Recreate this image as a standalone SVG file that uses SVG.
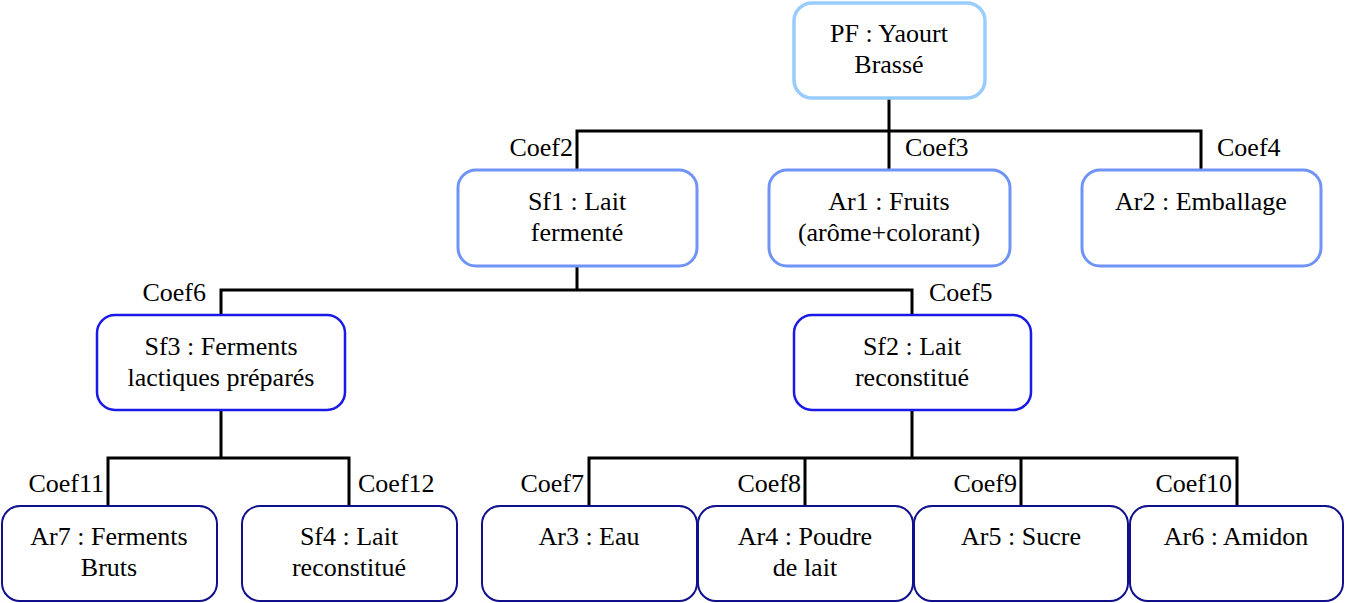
<svg xmlns="http://www.w3.org/2000/svg" width="1345" height="603" viewBox="0 0 1345 603">
  <style>
    text { font-family: 'Times New Roman', 'Liberation Serif', 'DejaVu Serif', serif; font-size: 26px; fill: #000; }
    .c { text-anchor: middle; }
    .r { text-anchor: end; }
    .box { fill: #fff; }
    .l1 { stroke: #99CCFF; stroke-width: 3.5; }
    .l2 { stroke: #7094F5; stroke-width: 3; }
    .l3 { stroke: #1A1AE6; stroke-width: 2.5; }
    .l4 { stroke: #10108C; stroke-width: 2; }
    #connectors path { fill: none; stroke: #000; stroke-width: 3; }
  </style>

  <!-- tree connectors -->
  <g id="connectors">
    <path d="M889 98 V131 M577 170 V131 H1201 V170 M889 131 V170"/>
    <path d="M577 266 V290 M221 315 V290 H912 V315"/>
    <path d="M221 410 V458 M108 506 V458 H349 V506"/>
    <path d="M912 410 V458 M589 506 V458 H1237 V506 M805 458 V506 M1021 458 V506"/>
  </g>

  <!-- coefficient labels -->
  <g id="labels">
    <text class="r" x="573" y="156">Coef2</text>
    <text x="905" y="156">Coef3</text>
    <text x="1217" y="156">Coef4</text>
    <text class="r" x="206" y="301">Coef6</text>
    <text x="929" y="301">Coef5</text>
    <text class="r" x="104" y="492">Coef11</text>
    <text x="358" y="492">Coef12</text>
    <text class="r" x="584" y="492">Coef7</text>
    <text class="r" x="801" y="492">Coef8</text>
    <text class="r" x="1017" y="492">Coef9</text>
    <text class="r" x="1232" y="492">Coef10</text>
  </g>

  <g id="pf">
    <rect class="box l1" x="794" y="3" width="191" height="95" rx="18"/>
    <text class="c" x="889" y="42">PF : Yaourt</text>
    <text class="c" x="889" y="73">Brassé</text>
  </g>

  <g id="sf1">
    <rect class="box l2" x="458" y="170" width="239" height="96" rx="18"/>
    <text class="c" x="577" y="210">Sf1 : Lait</text>
    <text class="c" x="577" y="241">fermenté</text>
  </g>
  <g id="ar1">
    <rect class="box l2" x="769" y="170" width="241" height="96" rx="18"/>
    <text class="c" x="889" y="210">Ar1 : Fruits</text>
    <text class="c" x="889" y="241">(arôme+colorant)</text>
  </g>
  <g id="ar2">
    <rect class="box l2" x="1082" y="170" width="239" height="96" rx="18"/>
    <text class="c" x="1201" y="210">Ar2 : Emballage</text>
  </g>

  <g id="sf3">
    <rect class="box l3" x="97" y="315" width="248" height="95" rx="18"/>
    <text class="c" x="221" y="355">Sf3 : Ferments</text>
    <text class="c" x="221" y="386">lactiques préparés</text>
  </g>
  <g id="sf2">
    <rect class="box l3" x="794" y="315" width="237" height="95" rx="18"/>
    <text class="c" x="912" y="355">Sf2 : Lait</text>
    <text class="c" x="912" y="386">reconstitué</text>
  </g>

  <g id="ar7">
    <rect class="box l4" x="2" y="506" width="215" height="95" rx="18"/>
    <text class="c" x="109" y="545">Ar7 : Ferments</text>
    <text class="c" x="109" y="576">Bruts</text>
  </g>
  <g id="sf4">
    <rect class="box l4" x="242" y="506" width="215" height="95" rx="18"/>
    <text class="c" x="349" y="545">Sf4 : Lait</text>
    <text class="c" x="349" y="576">reconstitué</text>
  </g>
  <g id="ar3">
    <rect class="box l4" x="482" y="506" width="215" height="95" rx="18"/>
    <text class="c" x="589" y="545">Ar3 : Eau</text>
  </g>
  <g id="ar4">
    <rect class="box l4" x="698" y="506" width="215" height="95" rx="18"/>
    <text class="c" x="805" y="545">Ar4 : Poudre</text>
    <text class="c" x="805" y="576">de lait</text>
  </g>
  <g id="ar5">
    <rect class="box l4" x="914" y="506" width="214" height="95" rx="18"/>
    <text class="c" x="1021" y="545">Ar5 : Sucre</text>
  </g>
  <g id="ar6">
    <rect class="box l4" x="1130" y="506" width="213" height="95" rx="18"/>
    <text class="c" x="1236" y="545">Ar6 : Amidon</text>
  </g>
</svg>
